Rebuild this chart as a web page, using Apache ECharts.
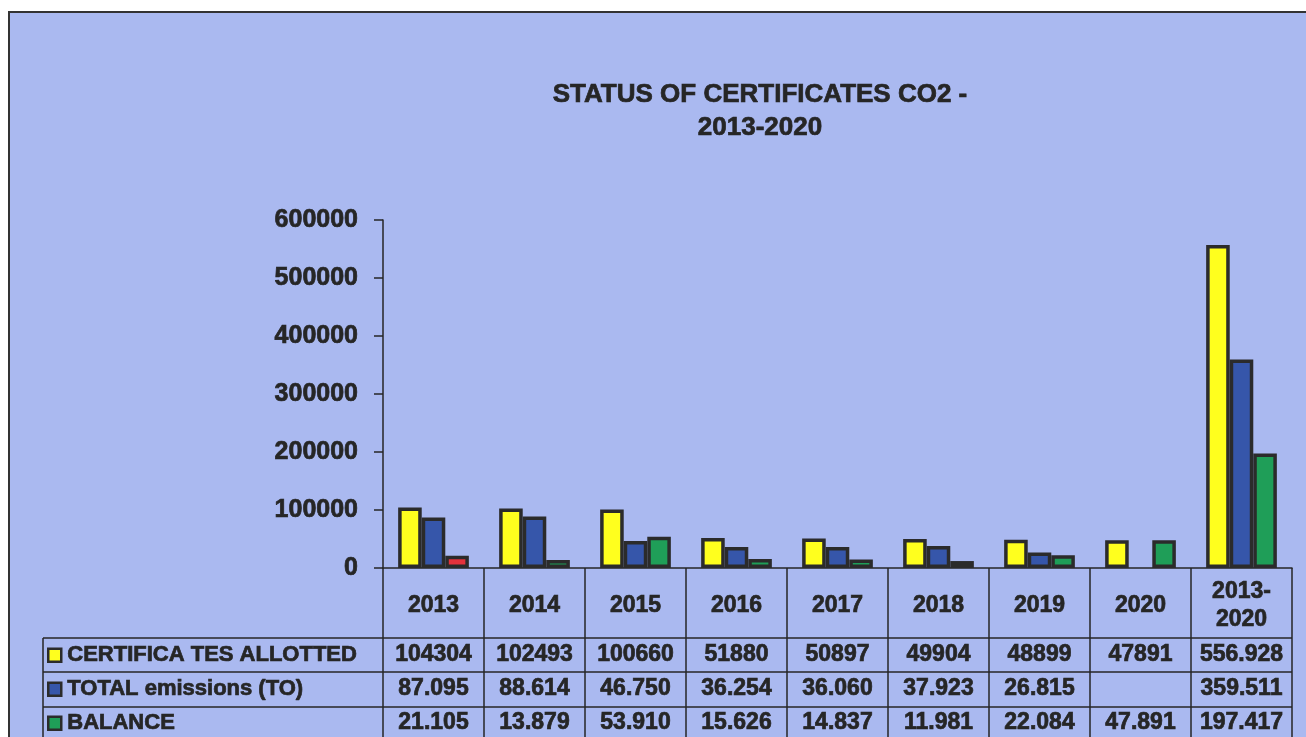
<!DOCTYPE html>
<html>
<head>
<meta charset="utf-8">
<script src="https://cdn.jsdelivr.net/npm/echarts@6/dist/echarts.min.js"></script>
<style>
    html, body { margin: 0; padding: 0; background: #ffffff; }
    #chart { width: 1306px; height: 737px; }
</style>
</head>
<body>
<div id="chart"></div>
<script>
    // categories and values
    const years = ['2013', '2014', '2015', '2016', '2017', '2018', '2019', '2020', '2013-\n2020'];
    const allotted = [104304, 102493, 100660, 51880, 50897, 49904, 48899, 47891, 556928];
    const emissions = [87095, 88614, 46750, 36254, 36060, 37923, 26815, null, 359511];
    const balance = [21105, 13879, 53910, 15626, 14837, 11981, 22084, 47891, 197417];

    // texts of the data table, as printed
    const allottedText = ['104304', '102493', '100660', '51880', '50897', '49904', '48899', '47891', '556.928'];
    const emissionsText = ['87.095', '88.614', '46.750', '36.254', '36.060', '37.923', '26.815', '', '359.511'];
    const balanceText = ['21.105', '13.879', '53.910', '15.626', '14.837', '11.981', '22.084', '47.891', '197.417'];

    const seriesNames = ['CERTIFICA TES ALLOTTED', 'TOTAL emissions (TO)', 'BALANCE'];

    const bg = '#aab9f0';
    const ink = '#262626';
    const font = 'Liberation Sans, Arial, sans-serif';

    // plot box
    const plotLeft = 383, plotRight = 1292, plotTop = 220, plotBottom = 568;
    const rowLines = [638, 672, 707];
    const rowCenters = [655, 689, 723];
    const tableLeft = 43;

    // heavy scanned-looking text
    const heavy = function (size, extra) {
        return Object.assign({
            color: ink, fontFamily: font, fontWeight: 'bold', fontSize: size,
            textBorderColor: ink, textBorderWidth: 0.7
        }, extra || {});
    };

    const chart = echarts.init(document.getElementById('chart'));

    const barStyle = function (color) {
        return { color: color, borderColor: '#2b2b2b', borderWidth: 3.5 };
    };

    // balance of 2013 is drawn red
    const balanceData = balance.map(function (v, i) {
        return i === 0 ? { value: v, itemStyle: { color: '#e4323c' } } : v;
    });

    const rowAxis = function (texts, centerY) {
        return {
            type: 'category',
            position: 'bottom',
            offset: centerY - plotBottom,
            data: texts,
            axisLine: { show: false },
            axisTick: { show: false },
            axisLabel: heavy(23, { interval: 0, margin: 0, verticalAlign: 'middle' })
        };
    };

    // one legend per table row
    const legends = seriesNames.map(function (name, i) {
        return {
            orient: 'vertical',
            left: 47,
            top: rowCenters[i] - 11,
            padding: 0,
            itemWidth: 13,
            itemHeight: 13,
            icon: 'rect',
            selectedMode: false,
            itemStyle: { borderColor: '#2b2b2b', borderWidth: 2.5 },
            textStyle: heavy(22, { lineHeight: 22, padding: [0, 0, 0, 1] }),
            data: [name]
        };
    });

    const graphics = [
        {
            type: 'rect', silent: true, z: -100,
            shape: { x: 9, y: 12, width: 1320, height: 760 },
            style: { fill: bg, stroke: '#333333', lineWidth: 2 }
        },
        {
            type: 'line', silent: true,
            shape: { x1: tableLeft, y1: rowLines[0], x2: tableLeft, y2: 737 },
            style: { stroke: ink, lineWidth: 1.5 }
        }
    ];
    rowLines.forEach(function (y) {
        graphics.push({
            type: 'line', silent: true,
            shape: { x1: tableLeft, y1: y, x2: plotRight, y2: y },
            style: { stroke: ink, lineWidth: 1.5 }
        });
    });

    chart.setOption({
        backgroundColor: 'transparent',
        animation: false,
        title: {
            text: 'STATUS OF CERTIFICATES CO2 -\n2013-2020',
            left: 755,
            top: 73,
            textAlign: 'center',
            textStyle: heavy(26, { lineHeight: 33, align: 'center' })
        },
        legend: legends,
        graphic: graphics,
        grid: {
            left: plotLeft,
            right: 1306 - plotRight,
            top: plotTop,
            bottom: 737 - plotBottom
        },
        xAxis: [
            {
                type: 'category',
                data: years,
                axisLine: { show: true, lineStyle: { color: ink, width: 1.5 } },
                axisTick: {
                    show: true, interval: 0, length: 175,
                    lineStyle: { color: ink, width: 1.5 }
                },
                axisLabel: heavy(23, {
                    interval: 0, margin: 38, verticalAlign: 'middle', lineHeight: 28
                })
            },
            rowAxis(allottedText, rowCenters[0]),
            rowAxis(emissionsText, rowCenters[1]),
            rowAxis(balanceText, rowCenters[2])
        ],
        yAxis: {
            type: 'value',
            min: 0,
            max: 600000,
            interval: 100000,
            splitLine: { show: false },
            axisLine: { show: true, lineStyle: { color: ink, width: 1.5 } },
            axisTick: { show: true, length: 9, lineStyle: { color: ink, width: 1.5 } },
            axisLabel: heavy(25, {
                margin: 25,
                formatter: function (v) { return String(v); }
            })
        },
        series: [
            {
                name: seriesNames[0], type: 'bar', data: allotted,
                barGap: '0%', barCategoryGap: '30%',
                itemStyle: barStyle('#ffff1e')
            },
            {
                name: seriesNames[1], type: 'bar', data: emissions,
                itemStyle: barStyle('#3656aa')
            },
            {
                name: seriesNames[2], type: 'bar', data: balanceData,
                itemStyle: barStyle('#1f9e58')
            }
        ]
    });
</script>
</body>
</html>
